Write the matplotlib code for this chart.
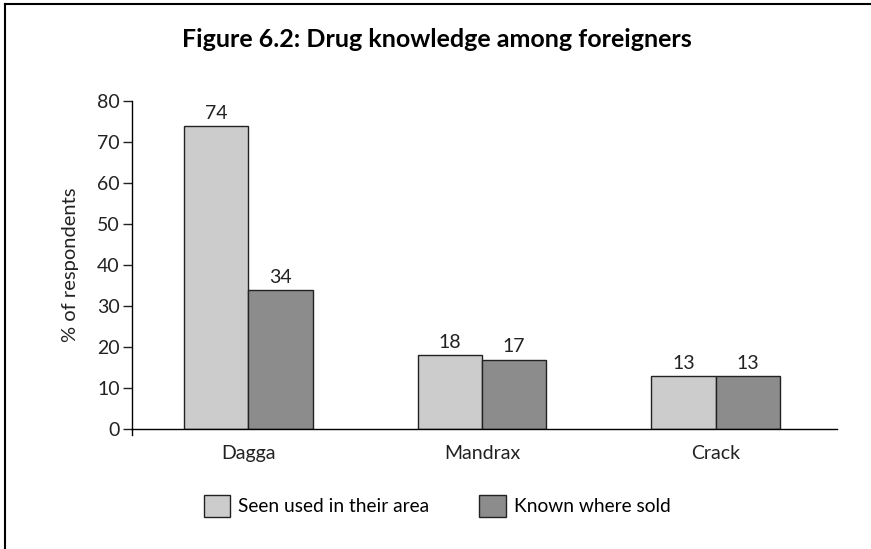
import matplotlib
matplotlib.use("Agg")
import matplotlib.pyplot as plt
from matplotlib.lines import Line2D
from matplotlib.patches import Patch
import numpy as np

## Data
categories = ["Dagga", "Mandrax", "Crack"]
seen_used = [74, 18, 13]
known_sold = [34, 17, 13]
series_names = ["Seen used in their area", "Known where sold"]

light = "#cccccc"
dark = "#8c8c8c"
edge = "#222222"

plt.rcParams['font.family'] = ['Lato', 'DejaVu Sans']

fig = plt.figure(figsize=(8.71, 5.49), dpi=100)
ax = fig.add_axes([0.151, 0.218, 0.810, 0.598])

x = np.arange(len(categories))
w = 0.275
b1 = ax.bar(x - w / 2, seen_used, w, color=light, edgecolor=edge, linewidth=1.0)
b2 = ax.bar(x + w / 2, known_sold, w, color=dark, edgecolor=edge, linewidth=1.0)

for bars, vals in ((b1, seen_used), (b2, known_sold)):
  for bar, v in zip(bars, vals):
    ax.text(bar.get_x() + bar.get_width() / 2, v + 1.0, str(v),
            ha="center", va="bottom", fontsize=14, color="#222222")

ax.set_xlim(-0.5, 2.52)
ax.set_ylim(0, 80)
ax.set_yticks(np.arange(0, 81, 10))
ax.set_xticks(x)
ax.set_xticklabels(categories, fontsize=14, color="#222222")
ax.tick_params(axis="x", length=0, pad=11)
ax.tick_params(axis="y", labelsize=14, length=6.5, width=1, pad=2, colors="#222222")

for side in ("top", "right"):
  ax.spines[side].set_visible(False)
ax.spines["left"].set_linewidth(1)
ax.spines["bottom"].set_linewidth(1)
ax.spines["left"].set_bounds(0, 80)
# little stub below the x axis at the origin
ax.plot([-0.5, -0.5], [0, -1.5], color="black", lw=1, clip_on=False)

ax.set_ylabel("% of respondents", fontsize=14.5, labelpad=13, color="#222222")

fig.text(0.502, 0.928, "Figure 6.2: Drug knowledge among foreigners",
         ha="center", va="center", fontsize=18, fontweight="bold")

handles = [Patch(facecolor=light, edgecolor=edge, linewidth=1.0),
           Patch(facecolor=dark, edgecolor=edge, linewidth=1.0)]
fig.legend(handles, series_names, loc="center", bbox_to_anchor=(0.502, 0.079),
           ncol=2, frameon=False, fontsize=13.8, handlelength=1.4, handleheight=1.4,
           columnspacing=2.6, handletextpad=0.42)

# frame remains at top and left edge
fig.add_artist(Line2D([5 / 871, 1.0], [1 - 4 / 549, 1 - 4 / 549], transform=fig.transFigure,
                      color="black", lw=1.5))
fig.add_artist(Line2D([5 / 871, 5 / 871], [0, 1 - 4 / 549], transform=fig.transFigure,
                      color="black", lw=1.5))

fig.savefig("out.png", dpi=100)
